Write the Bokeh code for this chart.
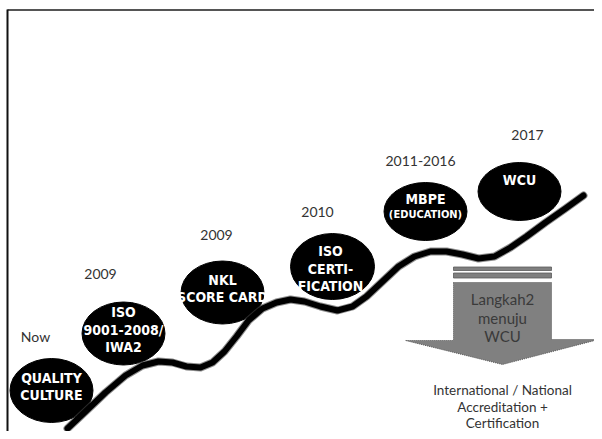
from bokeh.plotting import figure
from bokeh.models import Range1d
from bokeh.core.properties import value
from bokeh.embed import file_html
from bokeh.resources import INLINE

# ---- content ----
milestones = ["QUALITY\nCULTURE", "ISO\n9001-2008/\nIWA2", "NKL\nSCORE CARD",
              "ISO\nCERTI-\nFICATION", "MBPE", "WCU"]
years = ["Now", "2009", "2009", "2010", "2011-2016", "2017"]
arrow_lines = ["Langkah2", "menuju", "WCU"]
bottom_lines = ["International / National", "Accreditation +", "Certification"]

# ---- layout (pixel-like coordinates, y grows downwards) ----
ell_x = [51, 123, 222, 332, 425, 519]
ell_y = [390, 333, 292, 266, 211, 191]
ell_w = [83, 83, 83, 84, 83, 83]
ell_h = [64, 63, 63, 66, 58, 58]

year_x = [35, 100, 216, 317, 420, 527]
year_y = [336, 273, 234, 211, 160, 134]

curve_x = [67, 85, 105, 125, 142, 158, 172, 186, 200, 212, 224, 236, 248, 262, 276, 290,
           304, 320, 337, 352, 366, 382, 398, 414, 430, 446, 462, 478, 494, 510, 526, 545, 565, 583]
curve_y = [428, 411, 392, 375, 365, 361, 362, 366, 367, 362, 351, 336, 320, 308, 302, 299,
           301, 306, 310, 306, 296, 281, 266, 256, 251, 251, 254, 258, 256, 247, 236, 222, 208, 195]

W, H = 594, 431
p = figure(width=W, height=H, x_range=Range1d(0, W), y_range=Range1d(H, 0),
           output_backend="svg", toolbar_location=None, x_axis_type=None, y_axis_type=None,
           min_border=0, outline_line_color=None)
p.xgrid.visible = False
p.ygrid.visible = False
p.background_fill_color = "white"
p.border_fill_color = "white"

# frame lines (top and left)
p.segment(x0=[7, 7], y0=[9.5, 9], x1=[602, 7], y1=[9.5, 439], line_color=["#555555", "#111111"],
          line_width=2)

# ellipses
p.ellipse(x=ell_x, y=ell_y, width=ell_w, height=ell_h, fill_color="black", line_color="black")

# curve
p.line(curve_x, curve_y, line_color="#444444", line_width=8, line_join="round", line_cap="round",
       line_alpha=0.6)
p.line(curve_x, curve_y, line_color="black", line_width=6, line_join="round", line_cap="round")

# milestone texts
font_b = value("DejaVu Sans Condensed")
tx, ty, tt, ts = [], [], [], []
line_gap = 17.5
for i, lab in enumerate(milestones):
    lines = lab.split("\n")
    extra = []
    if lab == "MBPE":
        extra = ["(EDUCATION)"]
    n = len(lines) + len(extra)
    cy = ell_y[i] - (4 if i != 5 else 12)
    if i == 3:
        cy = ell_y[i] + 2
    y0 = cy - (n - 1) * line_gap / 2
    for k, ln in enumerate(lines):
        tx.append(ell_x[i] - (2 if i == 3 else 0)); ty.append(y0 + k * line_gap); tt.append(ln); ts.append("14px")
    for k, ln in enumerate(extra):
        tx.append(ell_x[i]); ty.append(y0 + (len(lines) + k) * line_gap - 2); tt.append(ln); ts.append("11px")
p.text(x=tx, y=ty, text=tt, text_font=font_b, text_font_style="bold", text_font_size=ts,
       text_color="white", text_align="center", text_baseline="middle")

# year labels
p.text(x=year_x, y=year_y, text=years, text_font=value("Lato"), text_font_size="14px",
       text_color="#333333", text_align="center", text_baseline="middle")

# arrow: two stripes + block arrow
p.quad(left=[453, 453], right=[551, 551], top=[266.5, 272.5], bottom=[270, 277.5],
       fill_color="#7f7f7f", line_color="#5a5a5a", line_width=0.8)
arrow_x = [453, 551, 551, 598, 502, 405, 453]
arrow_y = [282, 282, 339, 339, 364, 340, 340]
p.patch(arrow_x, arrow_y, fill_color="#808080", line_color="#555555", line_width=1,
        line_dash="1 1")
p.text(x=[502] * 3, y=[298, 317, 335], text=arrow_lines, text_font=value("Lato"),
       text_font_size="15px", text_color="#3a3a3a", text_align="center", text_baseline="middle")

# bottom caption
p.text(x=[502] * 3, y=[389, 406, 422], text=bottom_lines, text_font=value("Lato"),
       text_font_size="13.5px", text_color="#333333", text_align="center", text_baseline="middle")

open("out.html", "w").write(file_html(p, INLINE))
